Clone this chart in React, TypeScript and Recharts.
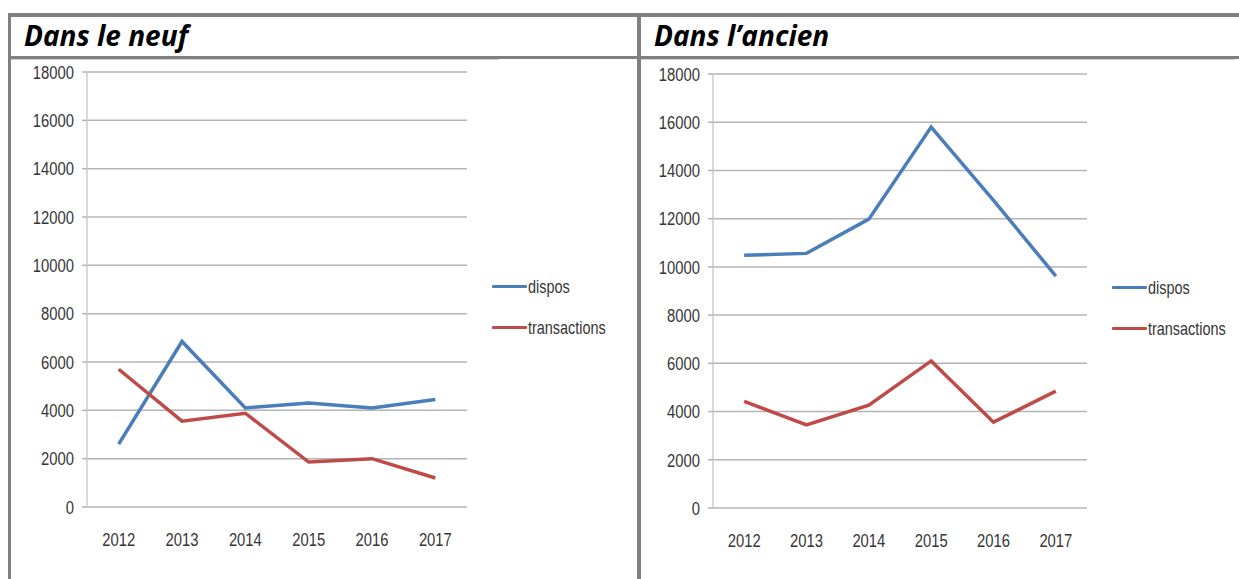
import { LineChart, Line, XAxis, YAxis, CartesianGrid, Legend } from "recharts";

const years = [2012, 2013, 2014, 2015, 2016, 2017];
const yTicks = [0, 2000, 4000, 6000, 8000, 10000, 12000, 14000, 16000, 18000];

// Dans le neuf
const neufDispos = [2600, 6850, 4100, 4300, 4100, 4450];
const neufTransactions = [5700, 3550, 3880, 1860, 2000, 1200];

// Dans l'ancien
const ancienDispos = [10480, 10560, 11980, 15800, 12760, 9620];
const ancienTransactions = [4420, 3450, 4260, 6100, 3560, 4850];

const BLUE = "#4a7ebb";
const RED = "#be4b48";
const GRID = "#b4b4b4";
const AXIS = "#cdcdcd";
const TEXT = "#363636";
const FONT = "'Liberation Sans', Arial, sans-serif";
const SQUEEZE = 0.78;

const boundaries = [...years.map((y) => y - 0.5), years[years.length - 1] + 0.5];

function buildRows(dispos: number[], transactions: number[]) {
  return years.map((year, i) => ({ year, dispos: dispos[i], transactions: transactions[i] }));
}

// narrow text, like the Calibri/Arial Narrow labels of the original
const NarrowTick = ({ x, y, payload, textAnchor, dy }: any) => (
  <text
    transform={`translate(${x},${y}) scale(${SQUEEZE},1)`}
    textAnchor={textAnchor}
    dy={dy}
    fontSize={19}
    fontFamily={FONT}
    fill={TEXT}
  >
    {payload.value}
  </text>
);

const LegendBox = ({ payload }: any) => (
  <div style={{ fontFamily: FONT, fontSize: 18.5, color: TEXT }}>
    {(payload || []).map((p: any) => (
      <div key={p.value} style={{ display: "flex", alignItems: "center", height: 41, whiteSpace: "nowrap" }}>
        <div style={{ width: 35, height: 3.5, background: p.color, borderRadius: 1 }} />
        <span style={{ display: "inline-block", transform: `scaleX(${SQUEEZE})`, transformOrigin: "left center", marginLeft: 1 }}>
          {p.value}
        </span>
      </div>
    ))}
  </div>
);

type PanelProps = {
  dispos: number[];
  transactions: number[];
  width: number;
  height: number;
  margin: { top: number; right: number; left: number; bottom: number };
  yWidth: number;
  legendPos: { left: number; top: number };
};

function Panel({ dispos, transactions, width, height, margin, yWidth, legendPos }: PanelProps) {
  const rows = buildRows(dispos, transactions);
  return (
    <LineChart width={width} height={height} data={rows} margin={margin}>
      <CartesianGrid vertical={false} stroke={GRID} strokeWidth={1.5} />
      <XAxis
        xAxisId="bounds"
        type="number"
        dataKey="year"
        domain={[boundaries[0], boundaries[boundaries.length - 1]]}
        ticks={boundaries}
        tick={false}
        height={0}
        tickSize={6}
        axisLine={{ stroke: GRID, strokeWidth: 1.5 }}
        tickLine={{ stroke: AXIS, strokeWidth: 1.5 }}
      />
      <XAxis
        xAxisId="labels"
        type="number"
        dataKey="year"
        domain={[boundaries[0], boundaries[boundaries.length - 1]]}
        ticks={years}
        interval={0}
        height={30}
        axisLine={false}
        tickLine={false}
        tickSize={5}
        tickMargin={20}
        tick={(props: any) => <NarrowTick {...props} dy="0.71em" />}
      />
      <YAxis
        domain={[0, 18000]}
        ticks={yTicks}
        interval={0}
        width={yWidth}
        tickSize={5}
        tickMargin={8}
        axisLine={{ stroke: AXIS, strokeWidth: 1.5 }}
        tickLine={{ stroke: GRID, strokeWidth: 1.5 }}
        tick={(props: any) => <NarrowTick {...props} dy="0.355em" />}
      />
      <Legend
        layout="vertical"
        align="center"
        verticalAlign="middle"
        content={<LegendBox />}
        wrapperStyle={{ left: legendPos.left, top: legendPos.top }}
      />
      <Line
        xAxisId="bounds"
        dataKey="dispos"
        name="dispos"
        stroke={BLUE}
        strokeWidth={3.5}
        dot={false}
        isAnimationActive={false}
      />
      <Line
        xAxisId="bounds"
        dataKey="transactions"
        name="transactions"
        stroke={RED}
        strokeWidth={3.5}
        dot={false}
        isAnimationActive={false}
      />
    </LineChart>
  );
}

const border = "#808080";

export default function App() {
  const headerStyle: React.CSSProperties = {
    position: "absolute",
    top: 18,
    fontFamily: "'Open Sans', Lato, sans-serif",
    fontWeight: 700,
    fontStyle: "italic",
    fontSize: 28,
    lineHeight: "34px",
    color: "#000",
    whiteSpace: "nowrap",
  };
  return (
    <div style={{ position: "absolute", left: 0, top: 0, width: 1239, height: 579, background: "#fff", overflow: "hidden" }}>
      {/* table borders */}
      <div style={{ position: "absolute", left: 8, top: 13, width: 1231, height: 4, background: border }} />
      <div style={{ position: "absolute", left: 8, top: 13, width: 3, height: 566, background: border }} />
      <div style={{ position: "absolute", left: 637, top: 13, width: 4, height: 566, background: border }} />
      <div style={{ position: "absolute", left: 8, top: 56, width: 1231, height: 3, background: border }} />
      <div style={{ position: "absolute", left: 11, top: 59, width: 488, height: 1, background: "#d0d0d0" }} />
      <div style={{ position: "absolute", left: 641, top: 59, width: 594, height: 1, background: "#d0d0d0" }} />

      <div style={{ ...headerStyle, left: 24 }}>Dans le neuf</div>
      <div style={{ ...headerStyle, left: 654 }}>Dans l’ancien</div>

      <div style={{ position: "absolute", left: 12, top: 60 }}>
        <Panel
          dispos={neufDispos}
          transactions={neufTransactions}
          width={620}
          height={515}
          margin={{ top: 12, right: 165, left: 0, bottom: 38 }}
          yWidth={75}
          legendPos={{ left: 480, top: 206 }}
        />
      </div>
      <div style={{ position: "absolute", left: 642, top: 60 }}>
        <Panel
          dispos={ancienDispos}
          transactions={ancienTransactions}
          width={597}
          height={515}
          margin={{ top: 14, right: 152, left: 0, bottom: 37 }}
          yWidth={71}
          legendPos={{ left: 470, top: 207 }}
        />
      </div>
    </div>
  );
}
